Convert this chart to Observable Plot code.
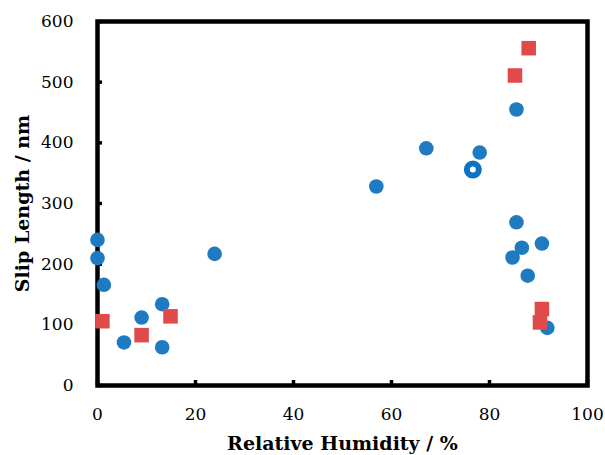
<!DOCTYPE html>
<html>
<head>
<meta charset="utf-8">
<script src="https://cdn.jsdelivr.net/npm/d3@7"></script>
<script src="https://cdn.jsdelivr.net/npm/@observablehq/plot@0.6"></script>
<style>
  html, body { margin: 0; padding: 0; background: #fff; }
</style>
</head>
<body>
<div id="chart"></div>
<script>
const blueX = [0, 0, 1.3, 5.4, 9.0, 13.2, 13.2, 23.9, 56.9, 67.1, 78.0, 85.5, 85.5, 86.6, 90.7, 84.7, 87.8, 91.8];
const blueY = [240, 210, 166, 71, 112, 134, 63, 217, 328, 391, 384, 455, 269, 227, 234, 211, 181, 95];
const redX = [1.0, 9.0, 14.9, 85.2, 88.0, 90.7, 90.3];
const redY = [106, 83, 114, 511, 556, 126, 104];
const ringX = [76.6];
const ringY = [356];
const xTicks = [0, 20, 40, 60, 80, 100];
const yTicks = [0, 100, 200, 300, 400, 500, 600];
const xTitle = "Relative Humidity / %";
const yTitle = "Slip Length / nm";

const blue = blueX.map((x, i) => ({x, y: blueY[i]}));
const red = redX.map((x, i) => ({x, y: redY[i]}));
const ring = ringX.map((x, i) => ({x, y: ringY[i]}));

const W = 605, H = 455, mL = 97, mR = 18, mT = 21, mB = 70;
const innerW = W - mL - mR, innerH = H - mT - mB;
const tickLen = 5;

const chart = Plot.plot({
  width: W,
  height: H,
  marginLeft: mL,
  marginRight: mR,
  marginTop: mT,
  marginBottom: mB,
  style: {fontFamily: "'DejaVu Serif', serif", fontSize: "17px", color: "#000", background: "#fff"},
  x: {domain: [0, 100]},
  y: {domain: [0, 600]},
  marks: [
    Plot.axisX(xTicks, {tickSize: 0, tickPadding: 22, fontSize: 17, label: null, fill: "#000"}),
    Plot.axisY(yTicks, {tickSize: 0, tickPadding: 24, fontSize: 17, label: null, fill: "#000"}),
    Plot.tickX(xTicks, {x: d => d, insetTop: innerH - tickLen, stroke: "#000", strokeWidth: 3.5}),
    Plot.tickY(yTicks, {y: d => d, insetRight: innerW - tickLen, stroke: "#000", strokeWidth: 3.5}),
    Plot.frame({stroke: "#000", strokeWidth: 4.5}),
    Plot.dot(blue, {x: "x", y: "y", r: 7.3, fill: "#1f7bc1", stroke: "none"}),
    Plot.dot(red, {x: "x", y: "y", r: 8.2, symbol: "square", fill: "#e04a4a", stroke: "none"}),
    Plot.dot(ring, {x: "x", y: "y", r: 6, fill: "#fff", stroke: "#0b72c4", strokeWidth: 6}),
    Plot.text([xTitle], {frameAnchor: "bottom", lineAnchor: "middle", textAnchor: "middle", dy: 58, fontWeight: "bold", fontSize: 19, fill: "#000"}),
    Plot.text([yTitle], {frameAnchor: "left", lineAnchor: "middle", textAnchor: "middle", rotate: -90, dx: -75, fontWeight: "bold", fontSize: 19, fill: "#000"})
  ]
});
document.getElementById("chart").appendChild(chart);
</script>
</body>
</html>
